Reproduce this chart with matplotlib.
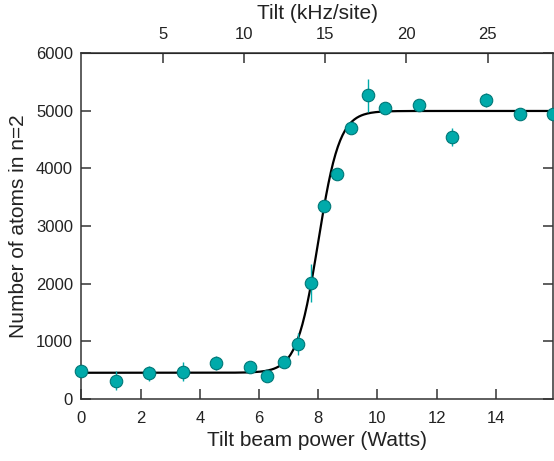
import matplotlib
matplotlib.use('Agg')
import matplotlib.pyplot as plt
import numpy as np

plt.rcParams['font.family'] = ['Liberation Sans', 'DejaVu Sans']

# tilt beam power (W) and atoms in n=2
power = [0.0, 1.16, 2.27, 3.42, 4.56, 5.69, 6.27, 6.83, 7.32, 7.74,
         8.19, 8.65, 9.10, 9.67, 10.25, 11.39, 12.53, 13.67, 14.81, 15.93]
atoms = [480, 317, 446, 473, 624, 560, 399, 647, 954, 2011,
         3341, 3901, 4704, 5266, 5040, 5098, 4538, 5185, 4937, 4947]
atoms_err = [70, 160, 130, 160, 115, 60, 50, 60, 196, 325,
             60, 60, 60, 290, 60, 60, 155, 115, 100, 60]

# logistic fit parameters
fit_low = 455
fit_high = 4995
fit_center = 8.0
fit_width = 0.36

khz_per_watt = 1.821
top_ticks = [5, 10, 15, 20, 25]

teal = '#00aaaa'
teal_edge = '#007777'
grey = '#222222'


def main():
    fig = plt.figure(figsize=(5.54, 4.61), dpi=100)
    ax = fig.add_axes([0.147, 0.1345, 0.851, 0.7505])

    xs = np.linspace(0, power[-1], 400)
    fit = fit_low + (fit_high - fit_low) / (1 + np.exp(-(xs - fit_center) / fit_width))
    ax.plot(xs, fit, color='k', lw=1.6, zorder=2)

    ax.errorbar(power, atoms, yerr=atoms_err, fmt='none', ecolor=teal,
                elinewidth=1.0, capsize=0, zorder=3, clip_on=False)
    ax.plot(power, atoms, 'o', ms=9, mfc=teal, mec=teal_edge, mew=0.8,
            zorder=4, clip_on=False)

    ax.set_xlim(0, power[-1])
    ax.set_ylim(0, 6000)
    ax.set_xticks(range(0, 15, 2))
    ax.set_yticks(range(0, 6001, 1000))

    for s in ax.spines.values():
        s.set_color('#333333')
        s.set_linewidth(1.1)
    ax.tick_params(direction='in', length=7, width=1.1, color='#333333',
                   labelsize=12, labelcolor=grey, right=True, top=False)
    ax.tick_params(axis='x', pad=9)
    ax.tick_params(axis='y', pad=6)

    ax.set_xlabel('Tilt beam power (Watts)', fontsize=15, color=grey, labelpad=3)
    ax.set_ylabel('Number of atoms in n=2', fontsize=15, color=grey, labelpad=6)

    sec = ax.secondary_xaxis('top', functions=(lambda w: w * khz_per_watt,
                                               lambda f: f / khz_per_watt))
    sec.set_xticks(top_ticks)
    sec.tick_params(direction='in', length=7, width=1.1, color='#333333',
                    labelsize=12, labelcolor=grey, pad=8)
    sec.set_xlabel('Tilt (kHz/site)', fontsize=15, color=grey, labelpad=6)

    fig.savefig('out.png', dpi=100)


if __name__ == '__main__':
    main()
